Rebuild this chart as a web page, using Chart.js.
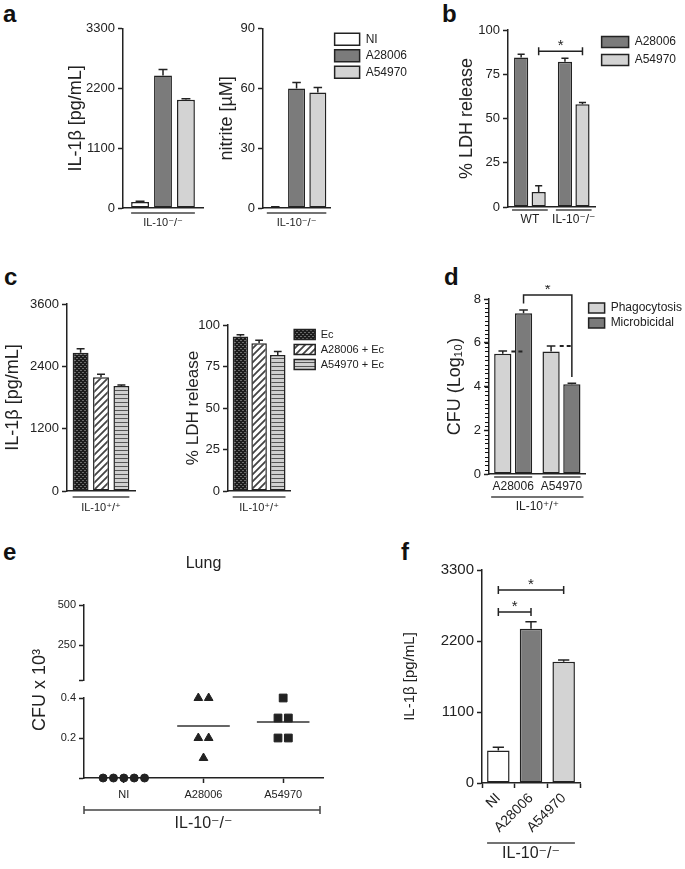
<!DOCTYPE html>
<html lang="en">
<head>
  <meta charset="UTF-8" />
  <title>IL-10 deficient macrophages and L. pneumophila strains</title>
  <script src="https://cdn.jsdelivr.net/npm/chart.js"></script>
  <style>
    body { margin: 0; width: 685px; height: 869px; position: relative; overflow: hidden; background: #fff; font-family: Arial, "Liberation Sans", sans-serif; }
    canvas { position: absolute; }
    .tag { position: absolute; font-size: 24px; font-weight: bold; line-height: 1; color: #111; }
  </style>
</head>
<body>
  <div class="tag" style="left:3px;top:2px">a</div>
  <div class="tag" style="left:442px;top:2px">b</div>
  <div class="tag" style="left:4px;top:265px">c</div>
  <div class="tag" style="left:444px;top:265px">d</div>
  <div class="tag" style="left:3px;top:540px">e</div>
  <div class="tag" style="left:401px;top:540px">f</div>

  <canvas id="aIl1b" width="165" height="220" style="left:40px;top:18px"></canvas>
  <canvas id="aNitrite" width="205" height="220" style="left:212px;top:18px"></canvas>
  <canvas id="bLdh" width="236" height="220" style="left:450px;top:18px"></canvas>
  <canvas id="cIl1b" width="138" height="230" style="left:0px;top:290px"></canvas>
  <canvas id="cLdh" width="216" height="230" style="left:178px;top:290px"></canvas>
  <canvas id="dCfu" width="249" height="235" style="left:443px;top:285px"></canvas>
  <canvas id="eLow" width="310" height="250" style="left:20px;top:590px"></canvas>
  <canvas id="eHigh" width="310" height="145" style="left:20px;top:545px"></canvas>
  <canvas id="fIl1b" width="188" height="314" style="left:395px;top:555px"></canvas>

  <script>
    // ---- values ----
    const aGroups = ['IL-10⁻/⁻'];
    const aSeries = ['NI', 'A28006', 'A54970'];
    const aIl1b = [110, 2440, 1995];
    const aIl1bErr = [15, 110, 15];
    const aNitrite = [0.4, 60, 58];
    const aNitriteErr = [0.2, 3, 2.5];

    const bGroups = ['WT', 'IL-10⁻/⁻'];
    const bSeries = ['A28006', 'A54970'];
    const bA28006 = [84.5, 82];
    const bA28006Err = [1.8, 2];
    const bA54970 = [8.5, 58];
    const bA54970Err = [3.5, 1];

    const cGroups = ['IL-10⁺/⁺'];
    const cSeries = ['Ec', 'A28006 + Ec', 'A54970 + Ec'];
    const cIl1b = [2660, 2190, 2020];
    const cIl1bErr = [80, 60, 20];
    const cLdh = [93, 89, 82];
    const cLdhErr = [1.2, 1.8, 2];

    const dGroups = ['A28006', 'A54970'];
    const dSeries = ['Phagocytosis', 'Microbicidal'];
    const dPhago = [5.5, 5.6];
    const dPhagoErr = [0.12, 0.25];
    const dMicro = [7.35, 4.1];
    const dMicroErr = [0.15, 0.05];
    const dPhagoRef = [5.6, 5.85];
    const dMinorStep = 0.2;

    const eGroups = ['NI', 'A28006', 'A54970'];
    const eNI = [0, 0, 0, 0, 0];
    const eA28006 = [0.4, 0.4, 0.2, 0.2, 0.1];
    const eA54970 = [0.4, 0.3, 0.3, 0.2, 0.2];
    const eLowTicks = [0, 0.2, 0.4];
    const eHighTicks = [30, 250, 500];

    const fGroups = ['NI', 'A28006', 'A54970'];
    const fIl1b = [505, 2390, 1880];
    const fIl1bErr = [50, 110, 25];

    // ---- look ----
    const INK = '#222';
    const DARK = '#7b7b7b';
    const LIGHT = '#d3d3d3';
    const WHITE = '#ffffff';

    Chart.defaults.font.family = 'Arial, "Liberation Sans", "DejaVu Sans", sans-serif';
    Chart.defaults.font.size = 12;
    Chart.defaults.color = INK;
    Chart.defaults.animation = false;
    Chart.defaults.responsive = false;
    Chart.defaults.plugins.legend.display = false;
    Chart.defaults.plugins.tooltip.enabled = false;

    function makePattern(size, bg, paint) {
      const c = document.createElement('canvas');
      c.width = c.height = size;
      const g = c.getContext('2d');
      g.fillStyle = bg;
      g.fillRect(0, 0, size, size);
      paint(g, size);
      return g.createPattern(c, 'repeat');
    }
    const ecFill = makePattern(4, '#1c1c1c', g => { g.fillStyle = '#6a6a6a'; g.fillRect(0, 0, 2, 1); g.fillRect(2, 2, 2, 1); });
    const diagFill = makePattern(7, '#fff', (g, s) => {
      g.strokeStyle = '#444'; g.lineWidth = 1.8; g.beginPath();
      g.moveTo(0, s); g.lineTo(s, 0); g.moveTo(-1, 1); g.lineTo(1, -1); g.moveTo(s - 1, s + 1); g.lineTo(s + 1, s - 1);
      g.stroke();
    });
    const stripeFill = makePattern(4, '#d0d0d0', g => { g.fillStyle = '#555'; g.fillRect(0, 0, 4, 1); });

    // ---- plugins ----
    const errorBars = {
      id: 'errorBars',
      afterDatasetsDraw(chart) {
        const ctx = chart.ctx;
        ctx.save();
        ctx.strokeStyle = INK;
        ctx.lineWidth = 1.5;
        chart.data.datasets.forEach((ds, i) => {
          if (!ds.errors) return;
          const meta = chart.getDatasetMeta(i);
          const scale = chart.scales[meta.yAxisID];
          meta.data.forEach((el, j) => {
            const top = scale.getPixelForValue(ds.data[j] + ds.errors[j]);
            const half = el.width / 4;
            ctx.beginPath();
            ctx.moveTo(el.x, el.y); ctx.lineTo(el.x, top);
            ctx.moveTo(el.x - half, top); ctx.lineTo(el.x + half, top);
            ctx.stroke();
          });
        });
        ctx.restore();
      }
    };

    // lines under the x axis that group the bars of each category (or all of them)
    const groupLines = {
      id: 'groupLines',
      afterDraw(chart, args, opts) {
        if (!opts.lines) return;
        const ctx = chart.ctx;
        const n = chart.data.labels.length;
        const metas = chart.getSortedVisibleDatasetMetas();
        const spans = [];
        for (let i = 0; i < n; i++) {
          let l = Infinity, r = -Infinity;
          metas.forEach(m => {
            const el = m.data[i];
            l = Math.min(l, el.x - el.width / 2);
            r = Math.max(r, el.x + el.width / 2);
          });
          spans.push([l, r]);
        }
        ctx.save();
        ctx.strokeStyle = '#444';
        ctx.lineWidth = 1.5;
        opts.lines.forEach(line => {
          const ext = line.ext || 0;
          const list = line.all ? [[spans[0][0], spans[n - 1][1]]] : spans;
          const y = chart.chartArea.bottom + line.y;
          list.forEach(([l, r]) => {
            ctx.beginPath(); ctx.moveTo(l - ext, y); ctx.lineTo(r + ext, y); ctx.stroke();
          });
        });
        ctx.restore();
      }
    };

    const brackets = {
      id: 'brackets',
      afterDraw(chart, args, opts) {
        if (!opts.items) return;
        const ctx = chart.ctx;
        const y = chart.scales.y;
        ctx.save();
        ctx.strokeStyle = INK;
        ctx.fillStyle = INK;
        ctx.lineWidth = 1.5;
        ctx.font = '15px Arial, "Liberation Sans", sans-serif';
        ctx.textAlign = 'center';
        ctx.textBaseline = 'bottom';
        opts.items.forEach(b => {
          const p = chart.getDatasetMeta(b.from[0]).data[b.from[1]];
          const q = chart.getDatasetMeta(b.to[0]).data[b.to[1]];
          const yy = y.getPixelForValue(b.at);
          ctx.beginPath();
          if (b.drops) {
            ctx.moveTo(p.x, y.getPixelForValue(b.drops[0]));
            ctx.lineTo(p.x, yy); ctx.lineTo(q.x, yy);
            ctx.lineTo(q.x, y.getPixelForValue(b.drops[1]));
          } else {
            ctx.moveTo(p.x, yy - 4); ctx.lineTo(p.x, yy + 4);
            ctx.moveTo(p.x, yy); ctx.lineTo(q.x, yy);
            ctx.moveTo(q.x, yy - 4); ctx.lineTo(q.x, yy + 4);
          }
          ctx.stroke();
          ctx.fillText('*', (p.x + q.x) / 2, yy + 2);
        });
        ctx.restore();
      }
    };

    const refDashes = {
      id: 'refDashes',
      afterDatasetsDraw(chart, args, opts) {
        if (!opts.values) return;
        const ctx = chart.ctx;
        const a = chart.getDatasetMeta(0).data;
        const b = chart.getDatasetMeta(1).data;
        ctx.save();
        ctx.strokeStyle = INK;
        ctx.lineWidth = 2;
        ctx.setLineDash([4, 3]);
        opts.values.forEach((v, i) => {
          const yy = chart.scales.y.getPixelForValue(v);
          ctx.beginPath(); ctx.moveTo(a[i].x + a[i].width / 2, yy); ctx.lineTo(b[i].x, yy); ctx.stroke();
        });
        ctx.restore();
      }
    };

    Chart.register(errorBars, groupLines, brackets, refDashes);

    // short unlabeled ticks between the major ones on the y axis (chart-local plugin)
    function minorTicks(step) {
      return {
        id: 'minorTicksLocal',
        afterDraw(chart) {
          const ctx = chart.ctx;
          const y = chart.scales.y;
          const x0 = chart.chartArea.left;
          const n = Math.round((y.max - y.min) / step);
          ctx.save();
          ctx.strokeStyle = '#111';
          ctx.lineWidth = 1.2;
          ctx.beginPath();
          for (let k = 1; k < n; k++) {
            const py = Math.round(y.getPixelForValue(y.min + k * step)) + 0.5;
            ctx.moveTo(x0 - 4, py); ctx.lineTo(x0, py);
          }
          ctx.stroke();
          ctx.restore();
        }
      };
    }

    // ---- helpers ----
    function yAxis(o) {
      return {
        min: 0, max: o.max,
        afterFit: s => { s.width = o.width; },
        ticks: { stepSize: o.step, padding: 3, color: INK, font: { size: o.tickSize || 13 }, autoSkip: false, callback: v => v },
        grid: { drawOnChartArea: false, tickLength: 5, tickColor: INK, tickWidth: 1.5 },
        border: { color: INK, width: 1.5 },
        title: { display: true, text: o.title, color: INK, font: { size: o.titleSize || 18 }, padding: { top: o.titlePad, bottom: 0 } }
      };
    }

    function xAxis(o) {
      return {
        afterFit: s => { s.height = o.height; },
        ticks: { padding: o.tickPad, color: INK, font: { size: o.tickSize || 12 }, autoSkip: false, minRotation: o.rotate || 0, maxRotation: o.rotate || 0 },
        grid: { drawOnChartArea: false, drawTicks: !!o.tickLength, tickLength: o.tickLength || 0, tickColor: INK, tickWidth: 1.5 },
        border: { color: INK, width: 1.5 },
        title: { display: !!o.title, text: o.title, color: INK, font: { size: o.titleSize || 12 }, padding: { top: 0, bottom: o.titlePad || 0 } }
      };
    }

    function legendOpts(box, padding, size) {
      return {
        display: true, position: 'right', align: 'start', fullSize: false, maxWidth: 240,
        labels: { boxWidth: box[0], boxHeight: box[1], padding: padding, color: INK, font: { size: size } }
      };
    }

    function barChart(id, cfg) {
      return new Chart(document.getElementById(id), {
        type: 'bar',
        data: { labels: cfg.labels, datasets: cfg.datasets },
        options: {
          layout: { padding: { top: cfg.top, right: cfg.right || 0 } },
          datasets: { bar: { categoryPercentage: cfg.cat, barPercentage: cfg.bar, borderWidth: 1.5, borderColor: INK, borderSkipped: false } },
          scales: { x: xAxis(cfg.x), y: yAxis(cfg.y) },
          plugins: {
            legend: cfg.legend || { display: false },
            groupLines: cfg.groups || {},
            brackets: cfg.brackets || {},
            refDashes: cfg.dashes || {}
          }
        },
        plugins: cfg.plugins || []
      });
    }

    // ---- a ----
    barChart('aIl1b', {
      labels: aGroups,
      datasets: [
        { label: aSeries[0], data: [aIl1b[0]], errors: [aIl1bErr[0]], backgroundColor: WHITE },
        { label: aSeries[1], data: [aIl1b[1]], errors: [aIl1bErr[1]], backgroundColor: DARK },
        { label: aSeries[2], data: [aIl1b[2]], errors: [aIl1bErr[2]], backgroundColor: LIGHT }
      ],
      top: 10, right: 2, cat: 0.86, bar: 0.78,
      x: { height: 30, tickPad: 8, tickSize: 11 },
      y: { max: 3300, step: 1100, width: 83, title: 'IL-1β [pg/mL]', titlePad: 25 },
      groups: { lines: [{ y: 5 }] }
    });

    barChart('aNitrite', {
      labels: aGroups,
      datasets: [
        { label: aSeries[0], data: [aNitrite[0]], errors: [aNitriteErr[0]], backgroundColor: WHITE },
        { label: aSeries[1], data: [aNitrite[1]], errors: [aNitriteErr[1]], backgroundColor: DARK },
        { label: aSeries[2], data: [aNitrite[2]], errors: [aNitriteErr[2]], backgroundColor: LIGHT }
      ],
      top: 10, cat: 0.95, bar: 0.8,
      x: { height: 30, tickPad: 8, tickSize: 11 },
      y: { max: 90, step: 30, width: 51, title: 'nitrite [µM]', titlePad: 4 },
      legend: legendOpts([25, 12], 4.5, 12),
      groups: { lines: [{ y: 5 }] }
    });

    // ---- b ----
    barChart('bLdh', {
      labels: bGroups,
      datasets: [
        { label: bSeries[0], data: bA28006, errors: bA28006Err, backgroundColor: DARK },
        { label: bSeries[1], data: bA54970, errors: bA54970Err, backgroundColor: LIGHT }
      ],
      top: 12, cat: 0.8, bar: 0.81,
      x: { height: 31, tickPad: 5, tickSize: 12 },
      y: { max: 100, step: 25, width: 58, title: '% LDH release', titlePad: 6 },
      legend: legendOpts([27, 11], 6, 12),
      groups: { lines: [{ y: 3, ext: 2 }] },
      brackets: { items: [{ from: [1, 0], to: [1, 1], at: 88 }] }
    });

    // ---- c ----
    barChart('cIl1b', {
      labels: cGroups,
      datasets: [
        { label: cSeries[0], data: [cIl1b[0]], errors: [cIl1bErr[0]], backgroundColor: ecFill },
        { label: cSeries[1], data: [cIl1b[1]], errors: [cIl1bErr[1]], backgroundColor: diagFill },
        { label: cSeries[2], data: [cIl1b[2]], errors: [cIl1bErr[2]], backgroundColor: stripeFill }
      ],
      top: 14, right: 3, cat: 0.9, bar: 0.78,
      x: { height: 29, tickPad: 10, tickSize: 11 },
      y: { max: 3600, step: 1200, width: 67, title: 'IL-1β [pg/mL]', titlePad: 2 },
      groups: { lines: [{ y: 6 }] }
    });

    barChart('cLdh', {
      labels: cGroups,
      datasets: [
        { label: cSeries[0], data: [cLdh[0]], errors: [cLdhErr[0]], backgroundColor: ecFill },
        { label: cSeries[1], data: [cLdh[1]], errors: [cLdhErr[1]], backgroundColor: diagFill },
        { label: cSeries[2], data: [cLdh[2]], errors: [cLdhErr[2]], backgroundColor: stripeFill }
      ],
      top: 35, cat: 0.9, bar: 0.83,
      x: { height: 29, tickPad: 10, tickSize: 11 },
      y: { max: 100, step: 25, width: 50, title: '% LDH release', titlePad: 5, titleSize: 17 },
      legend: legendOpts([21, 10], 4, 11),
      groups: { lines: [{ y: 6 }] }
    });

    // ---- d ----
    barChart('dCfu', {
      labels: dGroups,
      datasets: [
        { label: dSeries[0], data: dPhago, errors: dPhagoErr, backgroundColor: LIGHT },
        { label: dSeries[1], data: dMicro, errors: dMicroErr, backgroundColor: DARK }
      ],
      top: 14, cat: 0.86, bar: 0.83,
      x: { height: 46, tickPad: 5, tickSize: 12, title: 'IL-10⁺/⁺', titlePad: 6 },
      y: { max: 8, step: 2, width: 46, title: 'CFU (Log₁₀)', titlePad: 1 },
      legend: legendOpts([16, 10], 3, 12),
      groups: { lines: [{ y: 3 }, { y: 23, all: true, ext: 3 }] },
      brackets: { items: [{ from: [1, 0], to: [1, 1], at: 8.18, drops: [7.8, 4.43] }] },
      dashes: { values: dPhagoRef },
      plugins: [minorTicks(dMinorStep)]
    });

    // ---- e (broken y axis: two stacked charts) ----
    function spread(x, values) {
      return values.map((v, i) => {
        const same = values.filter(w => w === v).length;
        const k = values.slice(0, i).filter(w => w === v).length;
        return { x: x + (k - (same - 1) / 2) * 0.13, y: v };
      });
    }
    function meanLine(x, values) {
      const m = values.reduce((s, v) => s + v, 0) / values.length;
      return [{ x: x - 0.33, y: m }, { x: x + 0.33, y: m }];
    }

    const eDecor = {
      id: 'eDecor',
      afterDraw(chart) {
        const ctx = chart.ctx;
        const area = chart.chartArea;
        ctx.save();
        ctx.fillStyle = INK;
        ctx.font = '18px Arial, "Liberation Sans", sans-serif';
        ctx.textAlign = 'center';
        ctx.textBaseline = 'middle';
        ctx.translate(chart.scales.y.left + 20, area.top - 8);
        ctx.rotate(-Math.PI / 2);
        ctx.fillText('CFU x 10³', 0, 0);
        ctx.restore();
        ctx.save();
        ctx.strokeStyle = '#444';
        ctx.lineWidth = 1.5;
        const y = area.bottom + 32;
        ctx.beginPath();
        ctx.moveTo(area.left, y - 4); ctx.lineTo(area.left, y + 4);
        ctx.moveTo(area.left, y); ctx.lineTo(area.right - 3, y);
        ctx.moveTo(area.right - 3, y - 4); ctx.lineTo(area.right - 3, y + 4);
        ctx.stroke();
        ctx.restore();
      }
    };

    const eYTicks = { padding: 3, color: INK, font: { size: 11 }, autoSkip: false };
    const eGrid = { drawOnChartArea: false, tickLength: 5, tickColor: INK, tickWidth: 1.5 };

    new Chart(document.getElementById('eLow'), {
      type: 'scatter',
      data: {
        datasets: [
          { label: 'NI', data: spread(1, eNI), pointStyle: 'circle', pointRadius: 4, backgroundColor: INK, borderColor: INK, clip: false },
          { label: 'A28006', data: spread(2, eA28006), pointStyle: 'triangle', pointRadius: 5, backgroundColor: INK, borderColor: INK, clip: false },
          { label: 'A54970', data: spread(3, eA54970), pointStyle: 'rect', pointRadius: 5.5, backgroundColor: INK, borderColor: INK, clip: false },
          { data: meanLine(2, eA28006), showLine: true, pointRadius: 0, borderColor: '#666', borderWidth: 2 },
          { data: meanLine(3, eA54970), showLine: true, pointRadius: 0, borderColor: '#666', borderWidth: 2 }
        ]
      },
      options: {
        layout: { padding: { top: 108, right: 7 } },
        scales: {
          x: {
            type: 'linear', min: 0.5, max: 3.5,
            afterBuildTicks: s => { s.ticks = eGroups.map((g, i) => ({ value: i + 1 })); },
            afterFit: s => { s.height = 62; },
            ticks: { callback: v => eGroups[v - 1], padding: 5, color: INK, font: { size: 11 } },
            grid: eGrid,
            border: { color: INK, width: 1.5 },
            title: { display: true, text: 'IL-10⁻/⁻', color: INK, font: { size: 16 }, padding: { top: 0, bottom: 7 } }
          },
          y: {
            min: 0, max: 0.4,
            afterBuildTicks: s => { s.ticks = eLowTicks.map(v => ({ value: v })); },
            afterFit: s => { s.width = 64; },
            ticks: Object.assign({ callback: v => (v === 0 ? '' : v) }, eYTicks),
            grid: eGrid,
            border: { color: INK, width: 1.5 }
          }
        }
      },
      plugins: [eDecor]
    });

    new Chart(document.getElementById('eHigh'), {
      type: 'scatter',
      data: { datasets: [] },
      options: {
        layout: { padding: { right: 7, bottom: 5 } },
        scales: {
          x: { type: 'linear', display: false, min: 0.5, max: 3.5 },
          y: {
            min: eHighTicks[0], max: eHighTicks[eHighTicks.length - 1],
            afterBuildTicks: s => { s.ticks = eHighTicks.map(v => ({ value: v })); },
            afterFit: s => { s.width = 64; },
            ticks: Object.assign({ callback: v => (v === eHighTicks[0] ? '' : v) }, eYTicks),
            grid: eGrid,
            border: { color: INK, width: 1.5 }
          }
        },
        plugins: {
          title: { display: true, text: 'Lung', fullSize: false, color: INK, font: { size: 16, weight: 'normal' }, padding: { top: 9, bottom: 32 } }
        }
      }
    });

    // ---- f ----
    barChart('fIl1b', {
      labels: fGroups,
      datasets: [
        { label: 'IL-1β', data: fIl1b, errors: fIl1bErr, backgroundColor: [WHITE, DARK, LIGHT] }
      ],
      top: 15, right: 3, cat: 0.85, bar: 0.81,
      x: { height: 86, tickPad: 2, tickLength: 5, tickSize: 14, rotate: 45, title: 'IL-10⁻/⁻', titleSize: 16, titlePad: 6 },
      y: { max: 3300, step: 1100, width: 87, title: 'IL-1β [pg/mL]', titlePad: 6, titleSize: 15, tickSize: 15 },
      groups: { lines: [{ y: 60, all: true }] },
      brackets: { items: [{ from: [0, 0], to: [0, 2], at: 2990 }, { from: [0, 0], to: [0, 1], at: 2650 }] }
    });
  </script>
</body>
</html>
